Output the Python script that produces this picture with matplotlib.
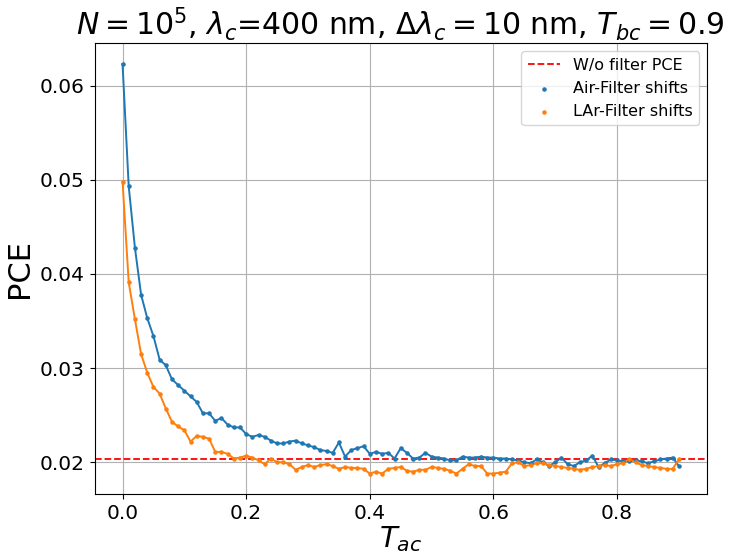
import numpy as np
import matplotlib
matplotlib.use("Agg")
import matplotlib.pyplot as plt

# T_ac scan, 0.00 .. 0.90 in steps of 0.01
t_ac = np.round(np.arange(0, 91) * 0.01, 2)

pce_no_filter = 0.0204

pce_air = [
    0.0623, 0.0493, 0.0428, 0.0378, 0.0353, 0.0334, 0.0309, 0.0303, 0.0288, 0.0282,
    0.0276, 0.0270, 0.0264, 0.0252, 0.0252, 0.0244, 0.0247, 0.0240, 0.0237, 0.0237,
    0.0230, 0.0227, 0.0229, 0.0227, 0.0223, 0.0220, 0.0220, 0.0222, 0.0223, 0.0220,
    0.0218, 0.0216, 0.0213, 0.0212, 0.0210, 0.0221, 0.0206, 0.0213, 0.0215, 0.0217,
    0.0209, 0.0211, 0.0209, 0.0210, 0.0204, 0.0215, 0.0210, 0.0204, 0.0205, 0.0210,
    0.0206, 0.0205, 0.0204, 0.0202, 0.0202, 0.0206, 0.0205, 0.0205, 0.0206, 0.0205,
    0.0205, 0.0204, 0.0204, 0.0203, 0.0202, 0.0200, 0.0199, 0.0203, 0.0200, 0.0196,
    0.0200, 0.0205, 0.0198, 0.0196, 0.0200, 0.0202, 0.0207, 0.0195, 0.0199, 0.0203,
    0.0202, 0.0201, 0.0201, 0.0202, 0.0201, 0.0199, 0.0201, 0.0203, 0.0204, 0.0205,
    0.0196,
]

pce_lar = [
    0.0498, 0.0391, 0.0352, 0.0315, 0.0295, 0.0280, 0.0273, 0.0257, 0.0243, 0.0238,
    0.0234, 0.0222, 0.0228, 0.0227, 0.0225, 0.0211, 0.0211, 0.0209, 0.0204, 0.0205,
    0.0207, 0.0205, 0.0202, 0.0198, 0.0204, 0.0200, 0.0200, 0.0198, 0.0192, 0.0195,
    0.0197, 0.0195, 0.0197, 0.0198, 0.0196, 0.0193, 0.0195, 0.0194, 0.0194, 0.0193,
    0.0188, 0.0190, 0.0188, 0.0193, 0.0194, 0.0195, 0.0191, 0.0190, 0.0192, 0.0192,
    0.0195, 0.0194, 0.0193, 0.0191, 0.0188, 0.0193, 0.0198, 0.0196, 0.0196, 0.0188,
    0.0188, 0.0189, 0.0190, 0.0199, 0.0200, 0.0196, 0.0197, 0.0199, 0.0199, 0.0197,
    0.0196, 0.0195, 0.0194, 0.0193, 0.0192, 0.0193, 0.0195, 0.0196, 0.0197, 0.0196,
    0.0198, 0.0199, 0.0203, 0.0200, 0.0197, 0.0196, 0.0195, 0.0194, 0.0193, 0.0193,
    0.0203,
]

fig = plt.figure(figsize=(7.4, 5.57), dpi=100)
ax = fig.add_axes([0.128, 0.113, 0.827, 0.809])

ax.axhline(pce_no_filter, color="red", linestyle="--", linewidth=1.3, label="W/o filter PCE")
ax.plot(t_ac, pce_air, color="C0", linewidth=1.4)
ax.plot(t_ac, pce_lar, color="C1", linewidth=1.4)
ax.scatter(t_ac, pce_air, color="C0", s=5, zorder=3, label="Air-Filter shifts")
ax.scatter(t_ac, pce_lar, color="C1", s=5, zorder=3, label="LAr-Filter shifts")

ax.grid(True)
ax.tick_params(labelsize=14.5)
ax.set_xlabel(r"$T_{ac}$", fontsize=21, labelpad=1)
ax.set_ylabel("PCE", fontsize=22)
ax.set_title(r"$N=10^5$, $\lambda_c$=400 nm, $\Delta\lambda_c=10$ nm, $T_{bc}=0.9$", fontsize=21.5)
ax.legend(fontsize=11.5, loc="upper right")

fig.savefig("out.png", dpi=100)
